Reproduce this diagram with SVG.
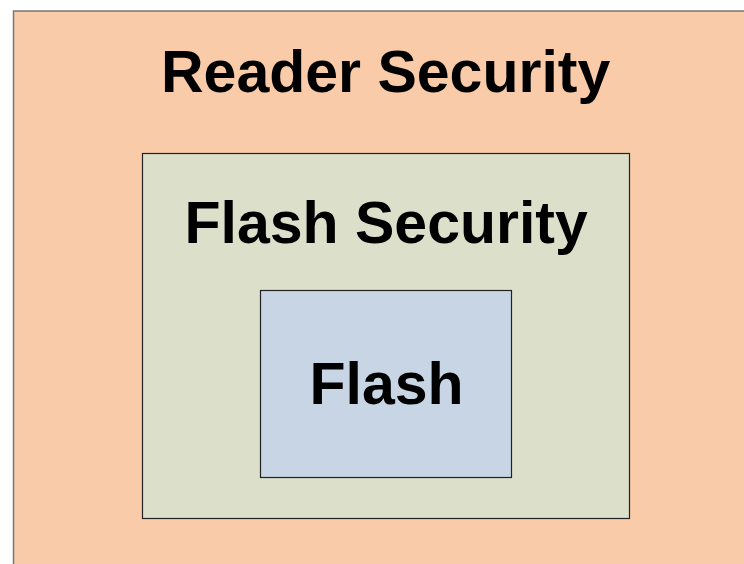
<svg xmlns="http://www.w3.org/2000/svg" width="744" height="564" viewBox="0 0 744 564">
<style>
.box{stroke:#222;stroke-width:1.2}
.lbl{font-family:"Liberation Sans",Arial,sans-serif;font-weight:bold;font-size:59px;fill:#000}
</style>
<rect width="744" height="564" fill="#fff"/>
<g id="reader-security">
<rect x="13.5" y="11" width="740" height="570" fill="#F9CBA8" stroke="#777" stroke-width="1.5"/>
<text class="lbl" x="161" y="92">Reader Security</text>
</g>
<g id="flash-security">
<rect class="box" x="142.5" y="153.5" width="487" height="365" fill="#DCE0CA"/>
<text class="lbl" x="184.5" y="242.5">Flash Security</text>
</g>
<g id="flash">
<rect class="box" x="260.5" y="290.5" width="251" height="187" fill="#C8D5E5"/>
<text class="lbl" x="309.5" y="404">Flash</text>
</g>
<g id="connectors"/>
</svg>
